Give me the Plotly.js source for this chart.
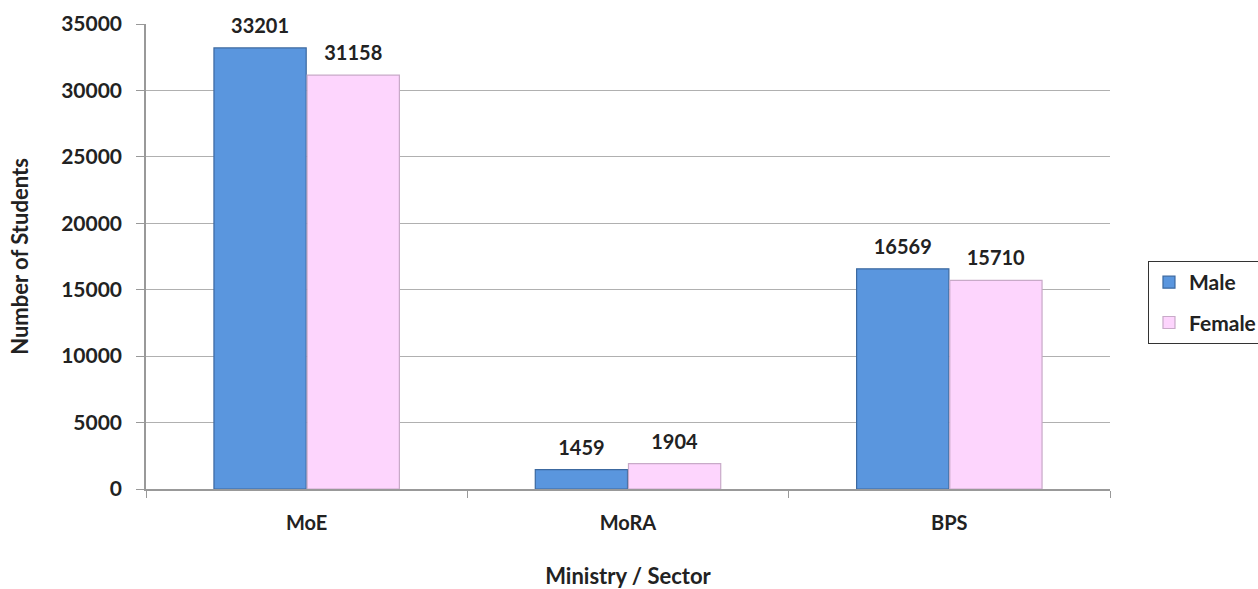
<!DOCTYPE html>
<html>
<head>
<meta charset="utf-8">
<script src="https://cdn.plot.ly/plotly-3.0.1.min.js"></script>
<style>
  html, body { margin: 0; padding: 0; background: #fff; }
  #chart { width: 1258px; height: 589px; }
</style>
</head>
<body>
<div id="chart"></div>
<script>
var sectors = ['MoE', 'MoRA', 'BPS'];
var male = [33201, 1459, 16569];
var female = [31158, 1904, 15710];

var FONT = 'Lato, "Open Sans", sans-serif';
var labelFont = {family: FONT, size: 20, color: '#222', weight: 'bold'};

var trace1 = {
  x: sectors,
  y: male,
  type: 'bar',
  name: 'Male',
  legendgroup: 'm',
  text: male.map(String),
  textposition: 'outside',
  textfont: labelFont,
  cliponaxis: false,
  marker: {
    color: 'rgb(90,150,222)',
    line: {color: 'rgb(60,105,160)', width: 1.2}
  }
};

var trace2 = {
  x: sectors,
  y: female,
  type: 'bar',
  name: 'Female',
  legendgroup: 'f',
  text: female.map(String),
  textposition: 'outside',
  textfont: labelFont,
  cliponaxis: false,
  marker: {
    color: 'rgb(253,213,253)',
    line: {color: 'rgb(200,170,200)', width: 1.2}
  }
};

var layout = {
  width: 1258,
  height: 589,
  margin: {l: 146, r: 148, t: 24, b: 100, autoexpand: false},
  paper_bgcolor: '#fff',
  plot_bgcolor: '#fff',
  barmode: 'group',
  bargap: 0.42,
  bargroupgap: 0.01,
  font: {family: FONT, size: 20, color: '#222'},
  xaxis: {
    title: {text: 'Ministry / Sector', font: {size: 22, weight: 'bold'}, standoff: 40},
    tickfont: {size: 20, weight: 'bold'},
    ticklabelstandoff: 15,
    showline: true,
    linecolor: '#999',
    linewidth: 1.5,
    ticks: 'outside',
    tickson: 'boundaries',
    ticklen: 7,
    tickcolor: '#999',
    showgrid: false
  },
  yaxis: {
    title: {text: 'Number of Students', font: {size: 22, weight: 'bold'}, standoff: 26},
    range: [0, 35000],
    dtick: 5000,
    tickformat: 'd',
    tickfont: {size: 21, weight: 'bold'},
    ticklabelstandoff: 10,
    showline: true,
    linecolor: '#999',
    linewidth: 1.5,
    ticks: 'outside',
    ticklen: 8,
    tickcolor: '#999',
    gridcolor: '#b0b0b0',
    gridwidth: 1.2,
    zeroline: false
  },
  showlegend: true,
  legend: {
    x: 1.0394,
    y: 0.401,
    xanchor: 'left',
    yanchor: 'middle',
    bordercolor: '#333',
    borderwidth: 1,
    tracegroupgap: 10,
    font: {size: 21, weight: 'bold'}
  }
};

Plotly.newPlot('chart', [trace1, trace2], layout, {displayModeBar: false}).then(function() {
  // lift value labels a little higher above the bars
  document.querySelectorAll('.bartext').forEach(function(el) {
    el.setAttribute('transform', (el.getAttribute('transform') || '') + ' translate(0,-8)');
  });
});
</script>
</body>
</html>
